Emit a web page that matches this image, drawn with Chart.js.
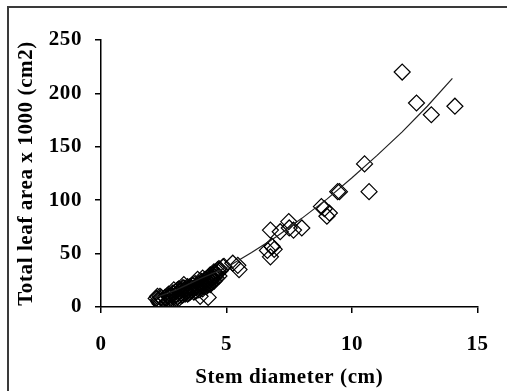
<!DOCTYPE html>
<html>
<head>
<meta charset="utf-8">
<script src="https://cdn.jsdelivr.net/npm/chart.js@4.4.0/dist/chart.umd.min.js"></script>
<style>
  html, body { margin: 0; padding: 0; background: #fff; overflow: hidden; }
  #wrap { position: relative; width: 507px; height: 391px; }
  #frame { position: absolute; left: 7px; top: 6px; width: 600px; height: 500px;
           border-left: 2px solid #3a3a3a; border-top: 2px solid #3a3a3a; pointer-events: none; }
</style>
</head>
<body>
<div id="wrap">
  <canvas id="chart" width="507" height="391"></canvas>
  <div id="frame"></div>
</div>
<script>
// stem diameter (cm) / total leaf area x 1000 (cm2)
const stemX = [
  2.2, 2.25, 2.3, 2.3, 2.35, 2.4, 2.5, 2.6, 2.7, 2.7, 2.8, 2.8, 2.9, 2.9, 3.0, 3.0,
  3.05, 3.1, 3.1, 3.15, 3.2, 3.2, 3.3, 3.3, 3.35, 3.4, 3.4, 3.5, 3.5, 3.55, 3.6, 3.7,
  3.8, 3.8, 3.85, 3.9, 3.9, 3.95, 4.0, 4.0, 4.05, 4.1, 4.15, 4.2, 4.2, 4.27, 4.3, 4.3,
  4.35, 4.4, 4.45, 4.5, 4.5, 4.55, 4.6, 4.65, 4.7, 4.75, 4.86, 4.9,
  2.35, 2.45, 2.55, 2.65, 2.75, 2.85, 2.95, 3.0, 3.05, 3.15, 3.25, 3.25, 3.35, 3.45,
  3.45, 3.55, 3.6, 3.65, 3.7, 3.75, 3.75, 3.85, 3.9, 4.0, 4.05, 4.1, 4.15, 4.25, 4.25,
  4.35, 4.35, 4.4, 4.45, 4.55, 4.6, 4.65, 4.7, 3.3, 2.9, 3.1, 2.6,
  5.25, 5.45, 5.5,
  6.63, 6.75, 6.8, 6.82, 6.9, 6.75, 7.14, 7.48, 7.5, 7.67, 8.0,
  8.78, 8.9, 9.0, 9.1, 9.43, 9.5, 10.5, 10.68, 12.0, 12.57, 13.16, 14.1
];
const leafArea = [
  8, 10, 5, 7, 3, 9, 6, 8, 10, 12, 7, 11, 13, 9, 12, 15,
  10, 14, 17, 11, 13, 16, 15, 18, 12, 14, 17, 16, 13, 19, 15, 17,
  20, 15, 26, 22, 18, 10, 20, 24, 17, 22, 26, 19, 23, 9, 25, 28,
  21, 27, 30, 24, 33, 28, 31, 35, 29, 34, 37.7, 38,
  10, 7, 9, 11, 9, 13, 11, 8, 16, 15, 11, 18, 16, 19,
  12, 14, 18, 20, 14, 18, 22, 19, 16, 22, 27, 19, 23, 21, 27,
  25, 30, 23, 27, 32, 27, 33, 36, 21, 16, 8, 4,
  41, 39, 35,
  53, 47, 57, 56.5, 54, 72, 70.5, 80, 74, 72, 74,
  94, 92, 85, 88, 108, 108, 134, 108, 220, 191, 180, 188
];
// fitted trend line
const trendX = [2.2, 3, 4, 5, 6, 7, 8, 9, 10, 11, 12, 13, 14];
const trendY = [9, 16, 27, 37, 51, 66, 83, 101, 121, 142, 164, 188, 214];

const xTicks = [0, 5, 10, 15];
const yTicks = [0, 50, 100, 150, 200, 250];

const FONT = { family: "'Liberation Serif', 'Times New Roman', serif", size: 21, weight: 'bold' };

const spacing = {
  id: 'spacing',
  beforeDraw(chart) { chart.ctx.letterSpacing = '0.6px'; }
};

new Chart(document.getElementById('chart'), {
  type: 'scatter',
  data: {
    datasets: [
      {
        type: 'line',
        data: trendX.map((x, i) => ({ x: x, y: trendY[i] })),
        borderColor: '#222',
        borderWidth: 1.2,
        pointRadius: 0,
        fill: false,
        order: 0
      },
      {
        data: stemX.map((x, i) => ({ x: x, y: leafArea[i] })),
        pointStyle: 'rectRot',
        pointRadius: 8,
        borderColor: '#000',
        backgroundColor: 'rgba(0,0,0,0)',
        borderWidth: 1.2,
        order: 1
      }
    ]
  },
  options: {
    responsive: false,
    animation: false,
    layout: { padding: { left: 11, top: 40, right: 23, bottom: 0 } },
    plugins: { legend: { display: false }, tooltip: { enabled: false } },
    scales: {
      x: {
        type: 'linear', min: 0, max: 15,
        afterBuildTicks: s => { s.ticks = xTicks.map(v => ({ value: v })); },
        afterFit: s => { s.height = 84; },
        grid: { drawOnChartArea: false, color: '#000', lineWidth: 1.5, tickLength: 6 },
        border: { color: '#000', width: 1.5 },
        ticks: { color: '#000', font: FONT, padding: 19, maxRotation: 0 },
        title: { display: true, text: 'Stem diameter (cm)', color: '#000', font: FONT, padding: { top: 0, bottom: 1 } }
      },
      y: {
        type: 'linear', min: 0, max: 250,
        afterBuildTicks: s => { s.ticks = yTicks.map(v => ({ value: v })); },
        afterFit: s => { s.width = 90; },
        grid: { drawOnChartArea: false, color: '#000', lineWidth: 1.5, tickLength: 6 },
        border: { color: '#000', width: 1.5 },
        ticks: { color: '#000', font: FONT, padding: 13 },
        title: { display: true, text: 'Total leaf area x 1000 (cm2)', color: '#000', font: FONT, padding: { top: 3, bottom: 0 } }
      }
    }
  },
  plugins: [spacing]
});
</script>
</body>
</html>
